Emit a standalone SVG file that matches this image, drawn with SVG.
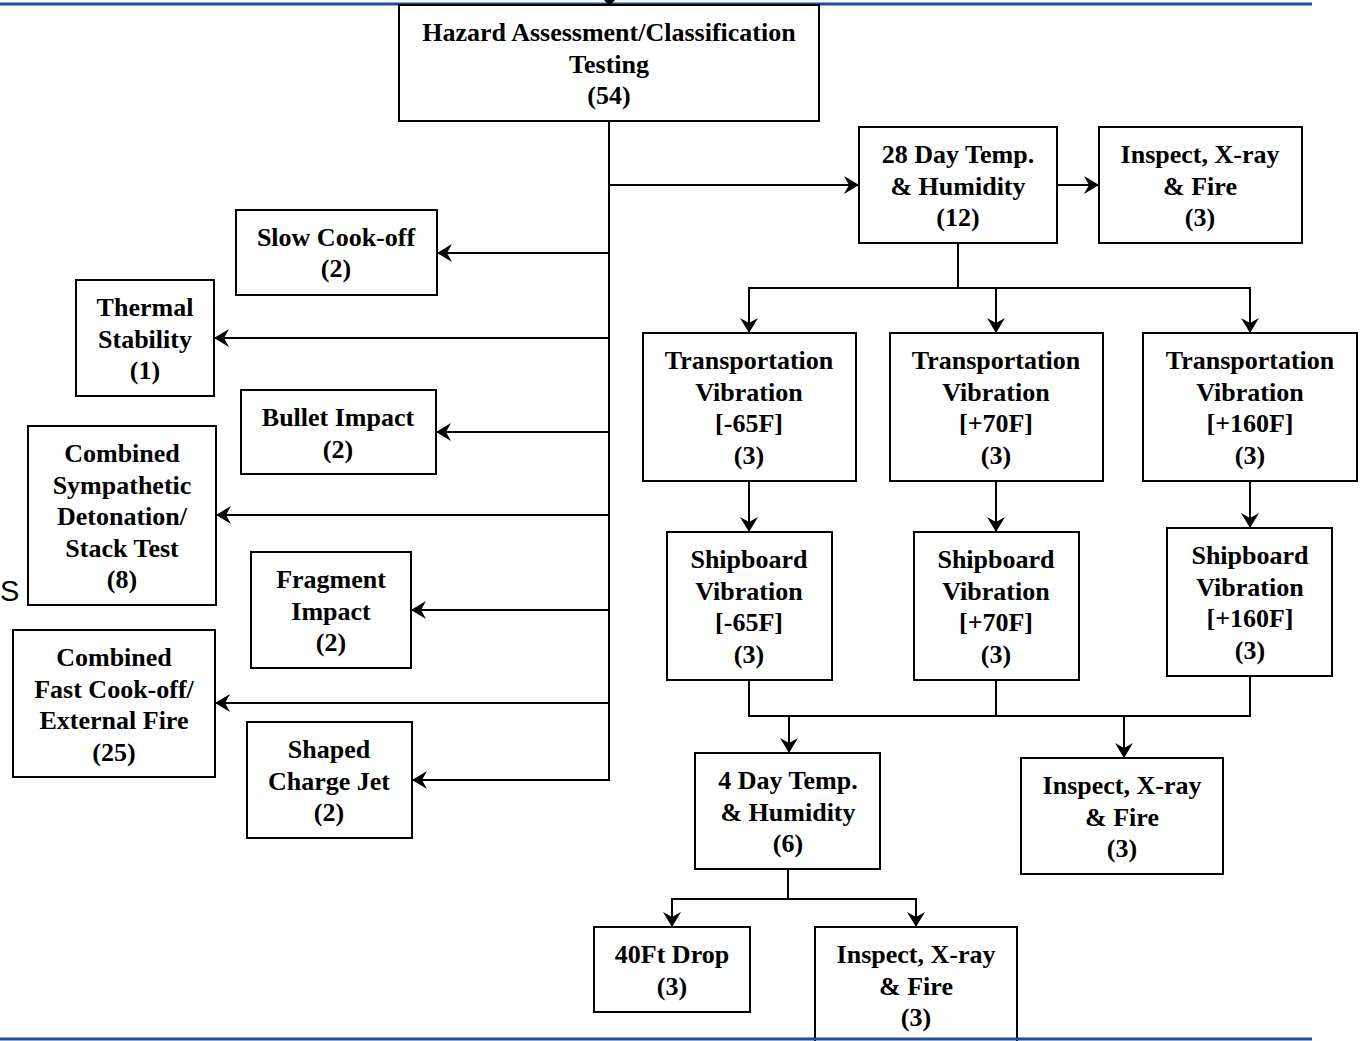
<svg xmlns="http://www.w3.org/2000/svg" width="1360" height="1041" viewBox="0 0 1360 1041">
<defs>
<style>
.box{fill:#fff;stroke:#000;stroke-width:2}
.t{font-family:"Liberation Serif","Times New Roman",serif;font-weight:bold;font-size:26px;text-anchor:middle;fill:#000}
.c{fill:none;stroke:#000;stroke-width:2}
.a{fill:none;stroke:#000;stroke-width:2;marker-end:url(#arr)}
.rule{stroke:#1f4e9c;stroke-width:3}
</style>
<marker id="arr" viewBox="0 0 15 18" refX="15" refY="9" markerWidth="15" markerHeight="18" markerUnits="userSpaceOnUse" orient="auto">
<path d="M0,0 L15,9 L0,18 L5,9 z" fill="#000"/>
</marker>
</defs>
<rect width="1360" height="1041" fill="#fff"/>
<line class="rule" x1="0" y1="4" x2="1312" y2="4"/>
<polygon points="604,0 615,0 609.5,6" fill="#000"/>
<text x="0" y="601" style="font-family:'Liberation Sans',Arial,sans-serif;font-size:29px;fill:#000">S</text>

<g id="connectors">
<line class="c" x1="609" y1="121" x2="609" y2="781"/>
<line class="a" x1="609" y1="185" x2="859" y2="185"/>
<line class="a" x1="609" y1="253" x2="437" y2="253"/>
<line class="a" x1="609" y1="338" x2="214" y2="338"/>
<line class="a" x1="609" y1="432" x2="436" y2="432"/>
<line class="a" x1="609" y1="515" x2="216" y2="515"/>
<line class="a" x1="609" y1="610" x2="411" y2="610"/>
<line class="a" x1="609" y1="703" x2="215" y2="703"/>
<line class="a" x1="609" y1="780" x2="412" y2="780"/>
<line class="a" x1="1057" y1="185" x2="1099" y2="185"/>
<polyline class="c" points="958,243 958,288"/>
<polyline class="c" points="749,288 1250,288"/>
<line class="a" x1="749" y1="287" x2="749" y2="333"/>
<line class="a" x1="996" y1="287" x2="996" y2="333"/>
<line class="a" x1="1250" y1="287" x2="1250" y2="333"/>
<line class="a" x1="749" y1="481" x2="749" y2="532"/>
<line class="a" x1="996" y1="481" x2="996" y2="532"/>
<line class="a" x1="1250" y1="481" x2="1250" y2="528"/>
<polyline class="c" points="749,680 749,716 1250,716 1250,676"/>
<line class="c" x1="996" y1="680" x2="996" y2="716"/>
<line class="a" x1="789" y1="715" x2="789" y2="753"/>
<line class="a" x1="1124" y1="715" x2="1124" y2="758"/>
<line class="c" x1="788" y1="869" x2="788" y2="899"/>
<line class="c" x1="672" y1="899" x2="916" y2="899"/>
<line class="a" x1="672" y1="898" x2="672" y2="927"/>
<line class="a" x1="916" y1="898" x2="916" y2="927"/>
</g>

<g id="hazard">
<rect class="box" x="399" y="5" width="420" height="116"/>
<text class="t"><tspan x="609" y="41">Hazard Assessment/Classification</tspan><tspan x="609" y="73">Testing</tspan><tspan x="609" y="104">(54)</tspan></text>
</g>
<g id="day28">
<rect class="box" x="859" y="127" width="198" height="116"/>
<text class="t"><tspan x="958" y="163">28 Day Temp.</tspan><tspan x="958" y="195">&amp; Humidity</tspan><tspan x="958" y="226">(12)</tspan></text>
</g>
<g id="inspect1">
<rect class="box" x="1099" y="127" width="203" height="116"/>
<text class="t"><tspan x="1200" y="163">Inspect, X-ray</tspan><tspan x="1200" y="195">&amp; Fire</tspan><tspan x="1200" y="226">(3)</tspan></text>
</g>
<g id="slowcook">
<rect class="box" x="236" y="210" width="201" height="85"/>
<text class="t"><tspan x="336" y="246">Slow Cook-off</tspan><tspan x="336" y="277">(2)</tspan></text>
</g>
<g id="thermal">
<rect class="box" x="76" y="280" width="138" height="116"/>
<text class="t"><tspan x="145" y="316">Thermal</tspan><tspan x="145" y="348">Stability</tspan><tspan x="145" y="379">(1)</tspan></text>
</g>
<g id="bullet">
<rect class="box" x="241" y="390" width="195" height="84"/>
<text class="t"><tspan x="338" y="426">Bullet Impact</tspan><tspan x="338" y="458">(2)</tspan></text>
</g>
<g id="sympathetic">
<rect class="box" x="28" y="426" width="188" height="179"/>
<text class="t"><tspan x="122" y="462">Combined</tspan><tspan x="122" y="494">Sympathetic</tspan><tspan x="122" y="525">Detonation/</tspan><tspan x="122" y="557">Stack Test</tspan><tspan x="122" y="588">(8)</tspan></text>
</g>
<g id="fragment">
<rect class="box" x="251" y="552" width="160" height="116"/>
<text class="t"><tspan x="331" y="588">Fragment</tspan><tspan x="331" y="620">Impact</tspan><tspan x="331" y="651">(2)</tspan></text>
</g>
<g id="fastcook">
<rect class="box" x="13" y="630" width="202" height="147"/>
<text class="t"><tspan x="114" y="666">Combined</tspan><tspan x="114" y="698">Fast Cook-off/</tspan><tspan x="114" y="729">External Fire</tspan><tspan x="114" y="761">(25)</tspan></text>
</g>
<g id="shaped">
<rect class="box" x="247" y="722" width="165" height="116"/>
<text class="t"><tspan x="329" y="758">Shaped</tspan><tspan x="329" y="790">Charge Jet</tspan><tspan x="329" y="821">(2)</tspan></text>
</g>
<g id="trans65">
<rect class="box" x="643" y="333" width="213" height="148"/>
<text class="t"><tspan x="749" y="369">Transportation</tspan><tspan x="749" y="401">Vibration</tspan><tspan x="749" y="432">[-65F]</tspan><tspan x="749" y="464">(3)</tspan></text>
</g>
<g id="trans70">
<rect class="box" x="890" y="333" width="213" height="148"/>
<text class="t"><tspan x="996" y="369">Transportation</tspan><tspan x="996" y="401">Vibration</tspan><tspan x="996" y="432">[+70F]</tspan><tspan x="996" y="464">(3)</tspan></text>
</g>
<g id="trans160">
<rect class="box" x="1143" y="333" width="214" height="148"/>
<text class="t"><tspan x="1250" y="369">Transportation</tspan><tspan x="1250" y="401">Vibration</tspan><tspan x="1250" y="432">[+160F]</tspan><tspan x="1250" y="464">(3)</tspan></text>
</g>
<g id="ship65">
<rect class="box" x="667" y="532" width="165" height="148"/>
<text class="t"><tspan x="749" y="568">Shipboard</tspan><tspan x="749" y="600">Vibration</tspan><tspan x="749" y="631">[-65F]</tspan><tspan x="749" y="663">(3)</tspan></text>
</g>
<g id="ship70">
<rect class="box" x="914" y="532" width="165" height="148"/>
<text class="t"><tspan x="996" y="568">Shipboard</tspan><tspan x="996" y="600">Vibration</tspan><tspan x="996" y="631">[+70F]</tspan><tspan x="996" y="663">(3)</tspan></text>
</g>
<g id="ship160">
<rect class="box" x="1167" y="528" width="165" height="148"/>
<text class="t"><tspan x="1250" y="564">Shipboard</tspan><tspan x="1250" y="596">Vibration</tspan><tspan x="1250" y="627">[+160F]</tspan><tspan x="1250" y="659">(3)</tspan></text>
</g>
<g id="day4">
<rect class="box" x="695" y="753" width="185" height="116"/>
<text class="t"><tspan x="788" y="789">4 Day Temp.</tspan><tspan x="788" y="821">&amp; Humidity</tspan><tspan x="788" y="852">(6)</tspan></text>
</g>
<g id="inspect2">
<rect class="box" x="1021" y="758" width="202" height="116"/>
<text class="t"><tspan x="1122" y="794">Inspect, X-ray</tspan><tspan x="1122" y="826">&amp; Fire</tspan><tspan x="1122" y="857">(3)</tspan></text>
</g>
<g id="drop">
<rect class="box" x="594" y="927" width="156" height="85"/>
<text class="t"><tspan x="672" y="963">40Ft Drop</tspan><tspan x="672" y="995">(3)</tspan></text>
</g>
<g id="inspect3">
<rect class="box" x="815" y="927" width="202" height="130"/>
<text class="t"><tspan x="916" y="963">Inspect, X-ray</tspan><tspan x="916" y="995">&amp; Fire</tspan><tspan x="916" y="1026">(3)</tspan></text>
</g>
<line class="rule" x1="0" y1="1039" x2="1312" y2="1039"/>
</svg>
